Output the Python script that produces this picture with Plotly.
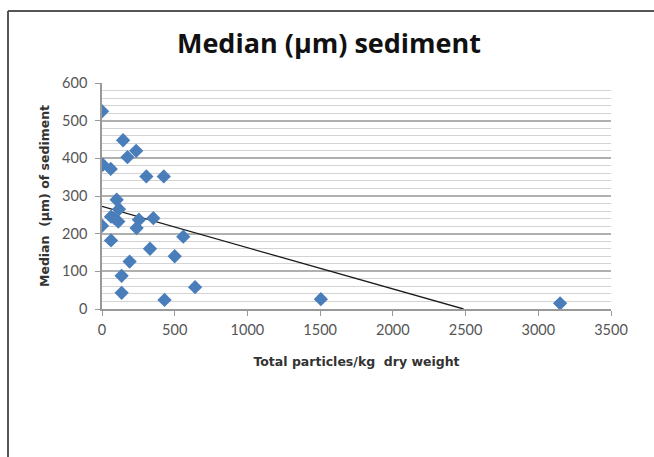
import numpy as np
import plotly.graph_objects as go

# Data
particles = [0, 145, 175, 235, 5, 60, 305, 425, 101, 117, 62, 85, 112, 0, 254, 238,
             353, 559, 62, 330, 500, 190, 135, 640, 135, 430, 1505, 3150]
median_um = [525, 448, 403, 420, 383, 372, 352, 352, 290, 265, 245, 241, 232, 221, 237, 215,
             241, 192, 182, 160, 140, 126, 88, 58, 43, 24, 26, 15]

x_ticks = [0, 500, 1000, 1500, 2000, 2500, 3000, 3500]
y_ticks = [0, 100, 200, 300, 400, 500, 600]

# Linear trendline through the data
slope, intercept = np.polyfit(particles, median_um, 1)
x_end = -intercept / slope
trend_x = [0, x_end]
trend_y = [intercept, 0]

fig = go.Figure()
fig.add_trace(go.Scatter(
    x=trend_x, y=trend_y, mode="lines",
    line=dict(color="#1a1a1a", width=1.3), showlegend=False, hoverinfo="skip"))
fig.add_trace(go.Scatter(
    x=particles, y=median_um, mode="markers",
    marker=dict(symbol="diamond", size=11, color="#4A7EBB", line=dict(width=0)),
    showlegend=False))

W, H = 654, 457
L, R, T, B = 102, 43, 83, 148
pw, ph = W - L - R, H - T - B

def px(xp):
    return (xp - L) / pw

def py(yp):
    return (H - B - yp) / ph

fig.update_layout(
    width=W, height=H,
    margin=dict(l=L, r=R, t=T, b=B, pad=0),
    paper_bgcolor="white", plot_bgcolor="white",
    font=dict(family="Lato, 'Open Sans', sans-serif", color="#404040"),
    title=dict(text="<b>Median (µm) sediment</b>", xref="container", x=329 / W,
               xanchor="center", y=1 - 44 / H, yanchor="middle",
               font=dict(size=27, color="#111111", family="'Open Sans', sans-serif")),
    xaxis=dict(
        range=[0, 3500], tickvals=x_ticks, ticks="outside", ticklen=5, tickcolor="#999999",
        showline=True, linecolor="#999999", linewidth=1.5, showgrid=False, zeroline=False,
        tickfont=dict(size=14.5, color="#555555"),
        ticklabelstandoff=2,
        title=dict(text="<b>Total particles/kg  dry weight</b>", standoff=20,
                   font=dict(size=12.5, color="#333333", family="'DejaVu Sans', sans-serif")),
    ),
    yaxis=dict(
        range=[0, 600], tickvals=y_ticks, ticks="outside", ticklen=5, tickcolor="#999999",
        showline=True, linecolor="#999999", linewidth=1.5,
        showgrid=True, gridcolor="#b0b0b0", gridwidth=1.6, zeroline=False,
        minor=dict(dtick=20, showgrid=True, gridcolor="#d3d3d3", gridwidth=1.4, ticks=""),
        tickfont=dict(size=14.5, color="#555555"),
        ticklabelstandoff=5,
        title=dict(text="<b>Median  (µm) of sediment</b>", standoff=10,
                   font=dict(size=12.5, color="#333333", family="'DejaVu Sans', sans-serif")),
    ),
    shapes=[
        dict(type="line", xref="paper", yref="paper", x0=px(8), x1=px(W + 5),
             y0=py(11), y1=py(11), line=dict(color="#555555", width=2)),
        dict(type="line", xref="paper", yref="paper", x0=px(8), x1=px(8),
             y0=py(11), y1=py(H + 5), line=dict(color="#555555", width=2)),
    ],
)

fig.write_html("out.html")
